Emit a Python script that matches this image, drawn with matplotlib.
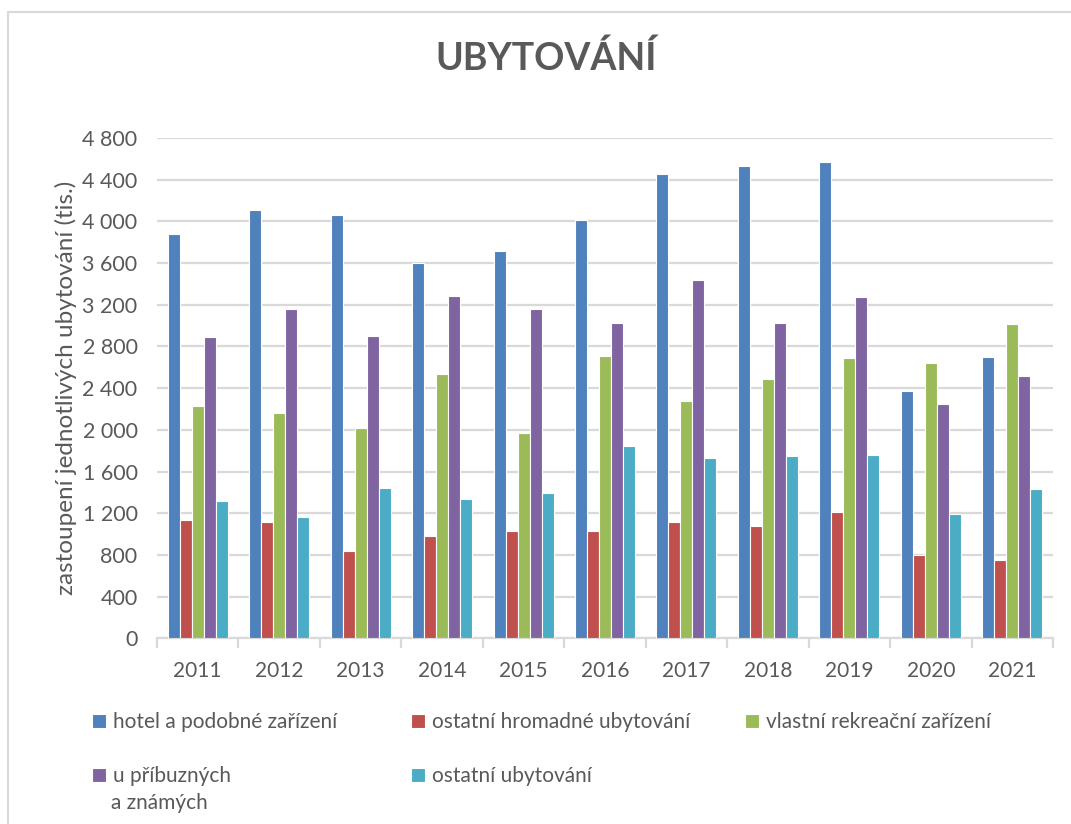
import matplotlib
matplotlib.use("Agg")
import matplotlib.pyplot as plt
import matplotlib.patches as mpatches
import numpy as np
from matplotlib.ticker import FuncFormatter, MultipleLocator, FixedLocator

plt.rcParams['font.family'] = ['Lato', 'DejaVu Sans']

years = ['2011', '2012', '2013', '2014', '2015', '2016', '2017', '2018', '2019', '2020', '2021']

# values in thousands
hotel = [3880, 4105, 4065, 3605, 3720, 4013, 4455, 4530, 4573, 2375, 2700]
hromadne = [1136, 1120, 841, 979, 1027, 1030, 1120, 1075, 1216, 800, 750]
rekreacni = [2227, 2163, 2016, 2534, 1974, 2713, 2275, 2489, 2691, 2646, 3017]
pribuzni = [2895, 3164, 2905, 3280, 3158, 3024, 3433, 3027, 3273, 2246, 2518]
ostatni = [1318, 1162, 1443, 1334, 1398, 1843, 1734, 1747, 1760, 1190, 1430]

labels = ['hotel a podobné zařízení', 'ostatní hromadné ubytování',
          'vlastní rekreační zařízení', 'u příbuzných', 'ostatní ubytování']
colors = ['#4F81BD', '#C0504D', '#9BBB59', '#8064A2', '#4BACC6']
series = [hotel, hromadne, rekreacni, pribuzni, ostatni]

txt = '#595959'
grid = '#d9d9d9'

fig = plt.figure(figsize=(10.71, 8.24), dpi=100)
ax = fig.add_axes([157/1071, 1 - 638.3/824, (1053 - 157)/1071, (638.3 - 138)/824])

x = np.arange(len(years))
w = 0.1475
handles = []
for i, (vals, c) in enumerate(zip(series, colors)):
    b = ax.bar(x + (i - 2) * w, vals, width=w, color=c, edgecolor='white', linewidth=0.8, zorder=3)
    handles.append(b)

ax.set_xlim(-0.5, len(years) - 0.5)
ax.set_ylim(0, 4800)
ax.yaxis.set_major_locator(MultipleLocator(400))
ax.yaxis.set_major_formatter(FuncFormatter(lambda v, p: f"{int(v):,}".replace(',', ' ')))
ax.grid(axis='y', color=grid, linewidth=1.6, zorder=0)
ax.set_axisbelow(True)

for s in ['top', 'right', 'left']:
    ax.spines[s].set_visible(False)
ax.spines['bottom'].set_color(grid)
ax.spines['bottom'].set_linewidth(1.6)

ax.set_xticks(x)
ax.set_xticklabels(years)
ax.xaxis.set_minor_locator(FixedLocator(np.arange(-0.5, len(years), 1)))
ax.tick_params(axis='x', which='major', length=0, pad=16, labelsize=15, labelcolor=txt)
ax.tick_params(axis='x', which='minor', length=7, width=1.6, color=grid)
ax.tick_params(axis='y', length=0, pad=14, labelsize=15.5, labelcolor=txt)

ax.set_ylabel('zastoupení jednotlivých ubytování (tis.)', fontsize=17.5, color=txt, labelpad=4)

fig.text(546/1071, 1 - 58/824, 'UBYTOVÁNÍ', ha='center', va='center',
         fontsize=27, fontweight='bold', color=txt)

# legend: three columns placed by hand
cols = [(92, [0, 3]), (411, [1, 4]), (745, [2])]
for xpix, idx in cols:
    fig.legend([handles[k] for k in idx], [labels[k] for k in idx],
               loc='upper left', bbox_to_anchor=(xpix/1071, 1 - 712/824),
               frameon=False, fontsize=15, labelcolor=txt,
               handlelength=0.65, handleheight=0.65, handletextpad=0.35,
               labelspacing=1.65, borderaxespad=0, borderpad=0)
fig.text(111/1071, 1 - 803/824, 'a známých', ha='left', va='center',
         fontsize=15, color=txt)

# chart area border
fig.patches.append(mpatches.Rectangle((8/1071, -0.05), 1.2, 1 - 12/824 + 0.05,
                                      transform=fig.transFigure, fill=False,
                                      edgecolor=grid, linewidth=1.5))

fig.savefig('out.png', dpi=100)
